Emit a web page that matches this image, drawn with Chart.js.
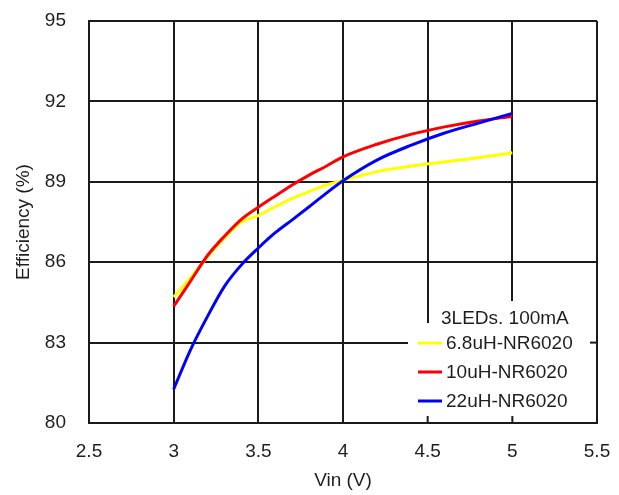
<!DOCTYPE html>
<html>
<head>
<meta charset="utf-8">
<title>Efficiency vs Vin</title>
<script src="https://cdn.jsdelivr.net/npm/chart.js@4/dist/chart.umd.min.js"></script>
<style>
    body { margin: 0; background: #fff; }
    .chart-box { width: 619px; height: 495px; }
</style>
</head>
<body>
<div class="chart-box"><canvas id="effChart"></canvas></div>
<script>
// Input voltage (V)
const vin = [3.0, 3.1, 3.2, 3.3, 3.4, 3.5, 3.6, 3.7, 3.8, 3.9, 4.0, 4.2, 4.4, 4.6, 4.8, 5.0];

// Efficiency (%) per inductor
const eff68uH = [84.7, 85.42, 86.2, 86.9, 87.5, 87.74, 88.07, 88.38, 88.63, 88.88, 89.06, 89.38, 89.58, 89.74, 89.9, 90.08];
const eff10uH = [84.35, 85.3, 86.25, 86.97, 87.6, 88.05, 88.47, 88.88, 89.25, 89.58, 89.93, 90.4, 90.77, 91.05, 91.27, 91.44];
const eff22uH = [81.26, 82.74, 83.98, 85.1, 85.9, 86.53, 87.1, 87.58, 88.07, 88.57, 89.04, 89.81, 90.36, 90.82, 91.19, 91.55];

const seriesLabels = ['6.8uH-NR6020', '10uH-NR6020', '22uH-NR6020'];
const seriesColors = ['#ffff00', '#ff0000', '#0000ff'];
const legendTitle = '3LEDs. 100mA';

const FONT = 'Liberation Sans, Arial, sans-serif';
const TEXT = '#1e1e1e';

function toPoints(ys) {
    return vin.map((v, i) => ({ x: v, y: ys[i] }));
}

// White legend panel in the lower right corner of the plot, with inward ticks redrawn on top
const legendPanel = {
    id: 'legendPanel',
    beforeDatasetsDraw(chart) {
        const { ctx, chartArea: a, scales } = chart;
        const itemsLeft = a.right - 189, itemsTop = a.bottom - 100;
        const titleLeft = a.right - 163, titleTop = a.bottom - 122;
        ctx.save();
        ctx.fillStyle = '#fff';
        ctx.fillRect(itemsLeft, itemsTop, a.right - 1 - itemsLeft, a.bottom - 1 - itemsTop);
        ctx.fillRect(titleLeft, titleTop, a.right - 1 - titleLeft, a.bottom - 1 - titleTop);

        ctx.strokeStyle = '#1a1a1a';
        ctx.lineWidth = 2;
        scales.x.ticks.forEach((t, i) => {
            const px = scales.x.getPixelForTick(i);
            if (px > itemsLeft && px < a.right - 2) {
                ctx.beginPath();
                ctx.moveTo(px, a.bottom);
                ctx.lineTo(px, a.bottom - 7);
                ctx.stroke();
            }
        });
        scales.y.ticks.forEach((t, i) => {
            const py = scales.y.getPixelForTick(i);
            if (py > titleTop && py < a.bottom - 2) {
                ctx.beginPath();
                ctx.moveTo(a.right, py);
                ctx.lineTo(a.right - 7, py);
                ctx.stroke();
            }
        });
        ctx.restore();
    },
    afterDatasetsDraw(chart) {
        const { ctx, chartArea: a } = chart;
        ctx.save();
        ctx.font = '19px ' + FONT;
        ctx.fillStyle = TEXT;
        ctx.textBaseline = 'middle';
        ctx.textAlign = 'left';
        ctx.fillText(legendTitle, a.right - 156, a.bottom - 104);
        chart.data.datasets.forEach((ds, i) => {
            const y = a.bottom - 80 + i * 29;
            ctx.strokeStyle = ds.borderColor;
            ctx.lineWidth = 3;
            ctx.beginPath();
            ctx.moveTo(a.right - 179, y);
            ctx.lineTo(a.right - 155, y);
            ctx.stroke();
            ctx.fillText(ds.label, a.right - 151, y + 1);
        });
        ctx.restore();
    }
};

const ctx = document.getElementById('effChart').getContext('2d');
new Chart(ctx, {
    type: 'line',
    data: {
        datasets: [eff68uH, eff10uH, eff22uH].map((ys, i) => ({
            label: seriesLabels[i],
            data: toPoints(ys),
            borderColor: seriesColors[i],
            backgroundColor: seriesColors[i],
            borderWidth: 3,
            pointRadius: 0,
            cubicInterpolationMode: 'monotone',
            order: 3 - i
        }))
    },
    options: {
        responsive: true,
        maintainAspectRatio: false,
        animation: false,
        layout: { padding: { top: 21, right: 22, left: 0, bottom: 0 } },
        plugins: {
            legend: { display: false },
            tooltip: { enabled: false }
        },
        scales: {
            x: {
                type: 'linear',
                min: 2.5,
                max: 5.5,
                ticks: {
                    stepSize: 0.5, color: TEXT, font: { family: FONT, size: 19 }, padding: 17, maxRotation: 0,
                    callback: v => String(v)
                },
                grid: { color: '#1a1a1a', lineWidth: 2, drawTicks: false },
                border: { color: '#1a1a1a', width: 2 },
                title: { display: true, text: 'Vin (V)', color: TEXT, font: { family: FONT, size: 19 }, padding: { top: 3, bottom: 3 } },
                afterFit(scale) {
                    scale.height = 72;
                    scale.paddingLeft = 0;
                    scale.paddingRight = 0;
                }
            },
            y: {
                min: 80,
                max: 95,
                ticks: { stepSize: 3, color: TEXT, font: { family: FONT, size: 19 }, padding: 23 },
                grid: { color: '#1a1a1a', lineWidth: 2, drawTicks: false },
                border: { color: '#1a1a1a', width: 2 },
                title: { display: true, text: 'Efficiency (%)', color: TEXT, font: { family: FONT, size: 19 }, padding: { top: 12, bottom: 12 } },
                afterFit(scale) {
                    scale.width = 89;
                    scale.paddingTop = 0;
                    scale.paddingBottom = 0;
                }
            }
        }
    },
    plugins: [legendPanel]
});
</script>
</body>
</html>
